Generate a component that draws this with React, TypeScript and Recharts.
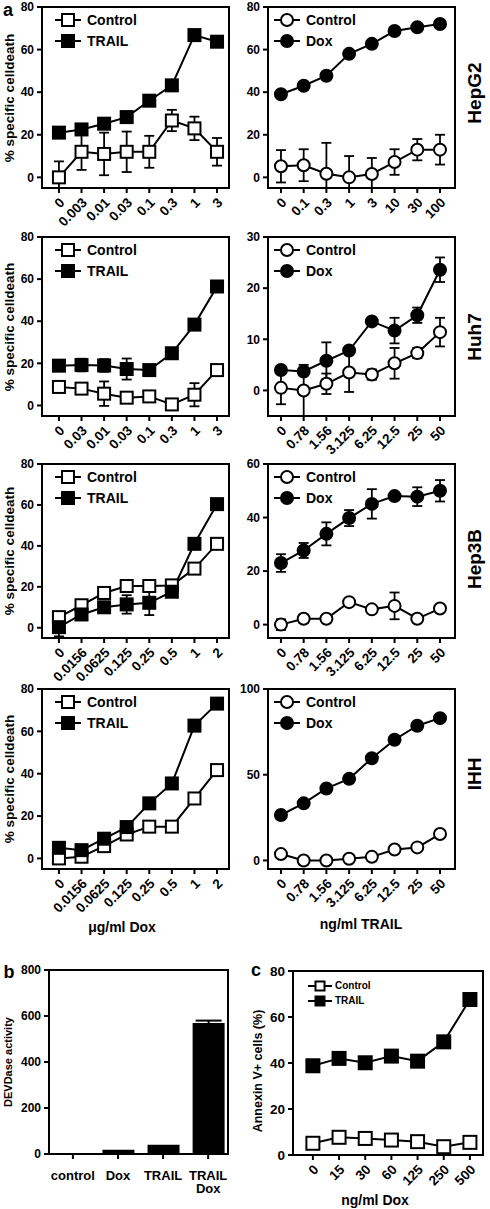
import React from "react";
import { LineChart, Line, BarChart, Bar, XAxis, YAxis, ErrorBar, ReferenceArea } from "recharts";

const FONT = 'Arial, "Liberation Sans", Helvetica, sans-serif';

// x categories
const doxDoseHepG2 = ["0", "0.003", "0.01", "0.03", "0.1", "0.3", "1", "3"];
const doxDoseHuh7 = ["0", "0.03", "0.01", "0.03", "0.1", "0.3", "1", "3"];
const doxDose = ["0", "0.0156", "0.0625", "0.125", "0.25", "0.5", "1", "2"];
const trailDoseHepG2 = ["0", "0.1", "0.3", "1", "3", "10", "30", "100"];
const trailDose = ["0", "0.78", "1.56", "3.125", "6.25", "12.5", "25", "50"];

// HepG2
const hepg2DoxCtrl = [0, 12, 11, 12, 12, 26.7, 23, 12];
const hepg2DoxCtrlErr = [7.5, 8.5, 10, 9.5, 7.5, 5, 5.5, 6.5];
const hepg2DoxTrail = [21, 22.5, 25.2, 28.3, 36, 43.2, 66.8, 63.7];
const hepg2TrailCtrl = [5.2, 5.7, 1.7, 0, 1.6, 7.2, 13, 13];
const hepg2TrailCtrlErr = [7.6, 7.5, 14.5, 10, 7.5, 6, 5, 7];
const hepg2TrailDox = [39, 43, 47.7, 58, 62.7, 68.7, 70.5, 72];

// Huh7
const huh7DoxCtrl = [8.8, 8, 5.6, 3.7, 4.3, 0.5, 5.1, 16.8];
const huh7DoxCtrlErr = [2, 0, 5.8, 0, 0, 0, 5.5, 0];
const huh7DoxTrail = [18.9, 19.2, 19, 17.3, 16.8, 24.8, 38.4, 56.5];
const huh7DoxTrailErr = [0, 3, 3, 5, 0, 0, 2, 0];
const huh7TrailCtrl = [0.5, 0, 1.3, 3.5, 3.1, 5.3, 7.3, 11.4];
const huh7TrailCtrlErr = [3.2, 5, 2, 3.8, 1, 3, 1, 2.8];
const huh7TrailDox = [4, 3.7, 5.8, 7.8, 13.5, 11.7, 14.7, 23.6];
const huh7TrailDoxErr = [0, 0, 3.6, 0, 0, 2.5, 1.5, 2.4];

// Hep3B
const hep3bDoxCtrl = [5.2, 11, 17, 20.4, 20.4, 20.7, 28.9, 41];
const hep3bDoxTrail = [0.3, 6.5, 10, 11.4, 12.2, 17.6, 41, 60.4];
const hep3bDoxTrailErr = [4.5, 0, 2, 4.5, 6, 2.5, 0, 0];
const hep3bTrailCtrl = [0, 2.2, 2.2, 8.4, 5.7, 7, 2.2, 6];
const hep3bTrailCtrlErr = [2, 1.5, 0, 0, 0, 5, 0, 0];
const hep3bTrailDox = [23, 27.7, 33.9, 39.8, 45.1, 48, 47.8, 50];
const hep3bTrailDoxErr = [3.3, 2.8, 4.3, 3, 5.5, 0, 3.5, 4];

// IHH
const ihhDoxCtrl = [0, 0.8, 5.8, 11.3, 15, 15, 28.3, 41.7];
const ihhDoxTrail = [5, 3.9, 9.3, 14.8, 26, 35.4, 62.7, 73.1];
const ihhTrailCtrl = [3.7, 0, 0, 1, 2.1, 6.4, 7.6, 15.4];
const ihhTrailDox = [26.5, 33.3, 42, 47.6, 59.6, 70.4, 78.6, 83];

// b: DEVDase
const devdCats = ["control", "Dox", "TRAIL", "TRAIL Dox"];
const devdValues = [2, 18, 40, 570];
const devdErr = [0, 0, 0, 10];

// c: Annexin V
const annexDose = ["0", "15", "30", "60", "125", "250", "500"];
const annexCtrl = [5.1, 7.7, 7.2, 6.5, 5.8, 3.6, 5.5];
const annexTrail = [38.8, 42, 40.1, 43, 40.8, 49.2, 67.6];

// lower whisker stops at the bottom of the plot, like the original
const errPair = (v: number, e: number, yMin: number) => (e ? [Math.min(e, v - yMin), e] : 0);

const rowsOf = (labels: string[], ctrl: number[], ctrlErr: number[] | null, treat: number[], treatErr: number[] | null, yMin: number) =>
  labels.map((label, i) => ({
    i,
    label,
    ctrl: ctrl[i],
    ctrlErr: ctrlErr ? errPair(ctrl[i], ctrlErr[i], yMin) : 0,
    treat: treat[i],
    treatErr: treatErr ? errPair(treat[i], treatErr[i], yMin) : 0,
  }));

const axisStyle = { stroke: "#000", strokeWidth: 2 };

function SlantTick({ x, y, payload, labels, fs }: any) {
  return (
    <g transform={`translate(${x + 3},${y + 5})`}>
      <text textAnchor="end" dy="0.35em" transform="rotate(-45)" fontSize={fs} fontWeight={700} fontFamily={FONT} fill="#000">
        {labels[payload.value]}
      </text>
    </g>
  );
}

function BarTick({ x, y, payload }: any) {
  const lines = devdCats[payload.value].split(" ");
  return (
    <text x={x} y={y} textAnchor="middle" fontSize={13} fontWeight={700} fontFamily={FONT} fill="#000">
      {lines.map((l, k) => (
        <tspan key={k} x={x} dy={k === 0 ? 19 : 13}>{l}</tspan>
      ))}
    </text>
  );
}

const squareDot = (fill: string, s: number) => (pr: any) => (
  <rect key={pr.index} x={pr.cx - s / 2} y={pr.cy - s / 2} width={s} height={s} fill={fill} stroke="#000" strokeWidth={2} />
);

function Txt({ x, y, size, rot = 0, children }: any) {
  return (
    <div
      style={{
        position: "absolute",
        left: x,
        top: y,
        transform: `translate(-50%,-50%) rotate(${rot}deg)`,
        fontSize: size,
        fontWeight: 700,
        fontFamily: FONT,
        whiteSpace: "nowrap",
        lineHeight: 1,
        color: "#000",
      }}
    >
      {children}
    </div>
  );
}

function Key({ x, y, items, circle, size = 12, font = 14, lineW = 26, gap = 21, ml = 6 }: any) {
  return (
    <>
      {items.map((it: any, k: number) => (
        <div key={it.name} style={{ position: "absolute", left: x, top: y + k * gap - 8, height: 16, display: "flex", alignItems: "center" }}>
          <svg width={lineW} height={16}>
            <line x1={0} x2={lineW} y1={8} y2={8} stroke="#000" strokeWidth={2} />
            {circle ? (
              <circle cx={lineW / 2} cy={8} r={size / 2} fill={it.fill} stroke="#000" strokeWidth={2} />
            ) : (
              <rect x={lineW / 2 - size / 2} y={8 - size / 2} width={size} height={size} fill={it.fill} stroke="#000" strokeWidth={2} />
            )}
          </svg>
          <span style={{ marginLeft: ml, fontSize: font, fontWeight: 700, fontFamily: FONT, lineHeight: 1 }}>{it.name}</span>
        </div>
      ))}
    </>
  );
}

function DosePanel({ side, top, bottom, data, labels, yDom, yTicks, circle, treatName }: any) {
  const left = side === "left";
  const chartLeft = left ? 0 : 230;
  const yW = left ? 42 : 38;
  const mr = left ? 16 : 35;
  const width = yW + 187 + mr;
  const xDom: [number, number] = left ? [-0.75, 7.53] : [-0.57, 7.66];
  const h = bottom - top;
  const marker = (fill: string) => (circle ? { r: 6, fill, stroke: "#000", strokeWidth: 2 } : squareDot(fill, 12));
  return (
    <>
      <div style={{ position: "absolute", left: chartLeft, top: top - 10 }}>
        <LineChart width={width} height={h + 10 + 52} data={data} margin={{ top: 10, right: mr, bottom: 0, left: 0 }}>
          <XAxis
            type="number"
            dataKey="i"
            domain={xDom}
            allowDataOverflow
            ticks={labels.map((_: string, i: number) => i)}
            interval={0}
            height={52}
            axisLine={axisStyle}
            tickLine={axisStyle}
            tickSize={5}
            tick={(p: any) => <SlantTick {...p} labels={labels} fs={13.5} />}
          />
          <YAxis
            type="number"
            domain={yDom}
            allowDataOverflow
            ticks={yTicks}
            interval={0}
            width={yW}
            axisLine={axisStyle}
            tickLine={axisStyle}
            tickSize={5}
            tickMargin={3}
            tick={{ fill: "#000", fontSize: 12, fontWeight: 700, fontFamily: FONT }}
          />
          <ReferenceArea x1={xDom[0]} x2={xDom[1]} y1={yDom[0]} y2={yDom[1]} fill="none" stroke="#000" strokeWidth={2} />
          <Line dataKey="ctrl" stroke="#000" strokeWidth={2} dot={marker("#fff")} isAnimationActive={false}>
            <ErrorBar dataKey="ctrlErr" direction="y" width={5} stroke="#000" strokeWidth={1.8} />
          </Line>
          <Line dataKey="treat" stroke="#000" strokeWidth={2} dot={marker("#000")} isAnimationActive={false}>
            <ErrorBar dataKey="treatErr" direction="y" width={5} stroke="#000" strokeWidth={1.8} />
          </Line>
        </LineChart>
      </div>
      <Key
        x={left ? 55 : 274}
        y={top + 13}
        circle={circle}
        items={[
          { name: "Control", fill: "#fff" },
          { name: treatName, fill: "#000" },
        ]}
      />
    </>
  );
}

const rows = [
  { top: 7, bottom: 188 },
  { top: 237, bottom: 416 },
  { top: 464, bottom: 638 },
  { top: 689, bottom: 869 },
];

export default function App() {
  const bData = devdValues.map((v, i) => ({ i, v, e: devdErr[i] }));
  const cData = annexDose.map((d, i) => ({ i, ctrl: annexCtrl[i], treat: annexTrail[i] }));
  const cxDom: [number, number] = [-0.76, 6.5];
  return (
    <div style={{ position: "absolute", left: 0, top: 0, width: 490, height: 1209, background: "#fff", overflow: "hidden" }}>
      {/* a: left column, Dox dose + TRAIL */}
      <DosePanel side="left" {...rows[0]} labels={doxDoseHepG2} data={rowsOf(doxDoseHepG2, hepg2DoxCtrl, hepg2DoxCtrlErr, hepg2DoxTrail, null, -5)} yDom={[-5, 80]} yTicks={[0, 20, 40, 60, 80]} treatName="TRAIL" />
      <DosePanel side="left" {...rows[1]} labels={doxDoseHuh7} data={rowsOf(doxDoseHuh7, huh7DoxCtrl, huh7DoxCtrlErr, huh7DoxTrail, huh7DoxTrailErr, -5)} yDom={[-5, 80]} yTicks={[0, 20, 40, 60, 80]} treatName="TRAIL" />
      <DosePanel side="left" {...rows[2]} labels={doxDose} data={rowsOf(doxDose, hep3bDoxCtrl, null, hep3bDoxTrail, hep3bDoxTrailErr, -5)} yDom={[-5, 80]} yTicks={[0, 20, 40, 60, 80]} treatName="TRAIL" />
      <DosePanel side="left" {...rows[3]} labels={doxDose} data={rowsOf(doxDose, ihhDoxCtrl, null, ihhDoxTrail, null, -5)} yDom={[-5, 80]} yTicks={[0, 20, 40, 60, 80]} treatName="TRAIL" />

      {/* a: right column, TRAIL dose + Dox */}
      <DosePanel side="right" circle {...rows[0]} labels={trailDoseHepG2} data={rowsOf(trailDoseHepG2, hepg2TrailCtrl, hepg2TrailCtrlErr, hepg2TrailDox, null, -5)} yDom={[-5, 80]} yTicks={[0, 20, 40, 60, 80]} treatName="Dox" />
      <DosePanel side="right" circle {...rows[1]} labels={trailDose} data={rowsOf(trailDose, huh7TrailCtrl, huh7TrailCtrlErr, huh7TrailDox, huh7TrailDoxErr, -5)} yDom={[-5, 30]} yTicks={[0, 10, 20, 30]} treatName="Dox" />
      <DosePanel side="right" circle {...rows[2]} labels={trailDose} data={rowsOf(trailDose, hep3bTrailCtrl, hep3bTrailCtrlErr, hep3bTrailDox, hep3bTrailDoxErr, -5)} yDom={[-5, 60]} yTicks={[0, 20, 40, 60]} treatName="Dox" />
      <DosePanel side="right" circle {...rows[3]} labels={trailDose} data={rowsOf(trailDose, ihhTrailCtrl, null, ihhTrailDox, null, -5)} yDom={[-5, 100]} yTicks={[0, 50, 100]} treatName="Dox" />

      {rows.map((r, k) => (
        <Txt key={k} x={10} y={(r.top + r.bottom) / 2} size={13.5} rot={-90}>% specific celldeath</Txt>
      ))}
      <Txt x={474} y={93} size={19} rot={-90}>HepG2</Txt>
      <Txt x={474} y={337} size={19} rot={-90}>Huh7</Txt>
      <Txt x={474} y={559} size={19} rot={-90}>Hep3B</Txt>
      <Txt x={474} y={774} size={19} rot={-90}>IHH</Txt>
      <Txt x={122} y={927} size={14}>μg/ml Dox</Txt>
      <Txt x={361} y={924} size={14}>ng/ml TRAIL</Txt>
      <Txt x={8} y={10} size={18}>a</Txt>

      {/* b */}
      <div style={{ position: "absolute", left: 0, top: 960 }}>
        <BarChart width={245} height={10 + 184 + 45} data={bData} margin={{ top: 10, right: 17, bottom: 0, left: 0 }}>
          <XAxis type="number" dataKey="i" domain={[-0.53, 3.44]} allowDataOverflow ticks={[0, 1, 2, 3]} interval={0} height={45} axisLine={axisStyle} tickLine={axisStyle} tickSize={5} tick={(p: any) => <BarTick {...p} />} />
          <YAxis type="number" domain={[0, 800]} allowDataOverflow ticks={[0, 200, 400, 600, 800]} interval={0} width={49} axisLine={axisStyle} tickLine={axisStyle} tickSize={5} tickMargin={3} tick={{ fill: "#000", fontSize: 12, fontWeight: 700, fontFamily: FONT }} />
          <ReferenceArea x1={-0.53} x2={3.44} y1={0} y2={800} fill="none" stroke="#000" strokeWidth={2} />
          <Bar dataKey="v" fill="#000" barSize={32} isAnimationActive={false}>
            <ErrorBar dataKey="e" direction="y" width={13} stroke="#000" strokeWidth={2} />
          </Bar>
        </BarChart>
      </div>
      <Txt x={9} y={972} size={18}>b</Txt>
      <Txt x={8} y={1062} size={11} rot={-90}>DEVDase activity</Txt>

      {/* c */}
      <div style={{ position: "absolute", left: 245, top: 961 }}>
        <LineChart width={245} height={10 + 184 + 42} data={cData} margin={{ top: 10, right: 7, bottom: 0, left: 0 }}>
          <XAxis type="number" dataKey="i" domain={cxDom} allowDataOverflow ticks={annexDose.map((_, i) => i)} interval={0} height={42} axisLine={axisStyle} tickLine={axisStyle} tickSize={5} tick={(p: any) => <SlantTick {...p} labels={annexDose} fs={13.5} />} />
          <YAxis type="number" domain={[0, 80]} allowDataOverflow ticks={[0, 20, 40, 60, 80]} interval={0} width={48} axisLine={axisStyle} tickLine={axisStyle} tickSize={5} tickMargin={3} tick={{ fill: "#000", fontSize: 13.5, fontWeight: 700, fontFamily: FONT }} />
          <ReferenceArea x1={cxDom[0]} x2={cxDom[1]} y1={0} y2={80} fill="none" stroke="#000" strokeWidth={2} />
          <Line dataKey="ctrl" stroke="#000" strokeWidth={2} dot={squareDot("#fff", 13)} isAnimationActive={false} />
          <Line dataKey="treat" stroke="#000" strokeWidth={2} dot={squareDot("#000", 13)} isAnimationActive={false} />
        </LineChart>
      </div>
      <Key x={308} y={986} size={9} font={10} lineW={24} gap={15} ml={3} items={[{ name: "Control", fill: "#fff" }, { name: "TRAIL", fill: "#000" }]} />
      <Txt x={256} y={970} size={18}>c</Txt>
      <Txt x={258} y={1071} size={12.5} rot={-90}>Annexin V+ cells (%)</Txt>
      <Txt x={375} y={1200} size={14}>ng/ml Dox</Txt>
    </div>
  );
}
